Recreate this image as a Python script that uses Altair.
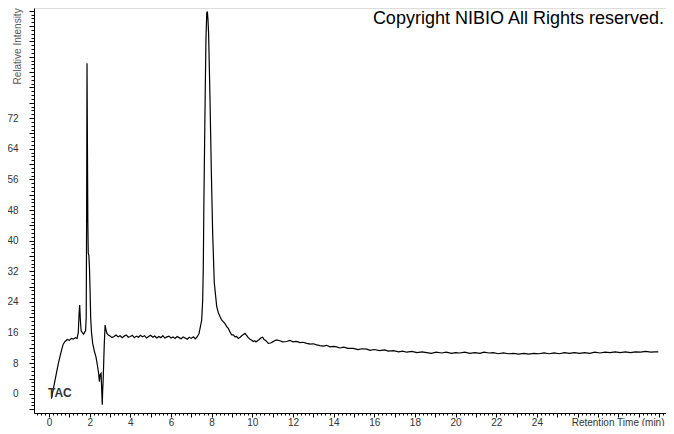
import altair as alt
import pandas as pd

# Retention time (min) and relative intensity
time_min = [
    0.12, 0.30, 0.46, 0.62, 0.70, 0.79, 0.90, 1.00, 1.10, 1.20, 1.30, 1.38,
    1.44, 1.48, 1.51, 1.54, 1.58, 1.64, 1.70, 1.76, 1.80, 1.83, 1.85, 1.87,
    1.89, 1.91, 1.93, 1.96, 1.99, 2.02, 2.05, 2.09, 2.15, 2.23, 2.31, 2.38,
    2.43, 2.48, 2.51, 2.56, 2.59, 2.62, 2.64, 2.66, 2.69, 2.72, 2.76, 2.80,
    2.85, 2.92,
    3.0, 3.1, 3.2, 3.3, 3.4, 3.5, 3.6, 3.7, 3.8, 3.9, 4.0, 4.1, 4.2, 4.3,
    4.4, 4.5, 4.6, 4.7, 4.8, 4.9, 5.0, 5.1, 5.2, 5.3, 5.4, 5.5, 5.6, 5.7,
    5.8, 5.9, 6.0, 6.1, 6.2, 6.3, 6.4, 6.5, 6.6, 6.7, 6.8, 6.9, 7.0, 7.1,
    7.2,
    7.3, 7.38, 7.43, 7.51, 7.56, 7.59, 7.62, 7.66, 7.69, 7.72, 7.76, 7.79,
    7.82, 7.85, 7.92, 7.98, 8.05, 8.13, 8.25, 8.33, 8.41, 8.49, 8.57, 8.65,
    8.74, 8.82, 8.90, 8.99, 9.07, 9.15, 9.23, 9.31, 9.40, 9.48, 9.56, 9.64,
    9.72, 9.80, 9.89, 9.97, 10.05, 10.12, 10.18, 10.26, 10.34, 10.42, 10.51,
    10.58, 10.67, 10.79, 10.90, 11.0, 11.1, 11.2, 11.35, 11.5, 11.69, 11.85,
    12.0, 12.18, 12.35, 12.5, 12.68, 12.85, 13.0, 13.17, 13.33, 13.49, 13.65,
    13.82, 14.0, 14.15, 14.3, 14.5, 14.7, 14.97, 15.2, 15.4, 15.63, 15.8,
    16.0, 16.25, 16.5, 16.7, 16.94, 17.2, 17.4, 17.6, 17.85, 18.1, 18.35,
    18.58, 18.8, 19.05, 19.3, 19.55, 19.8, 20.0, 20.2, 20.45, 20.7, 20.95,
    21.2, 21.4, 21.65, 21.85, 22.1, 22.35, 22.6, 22.85, 23.1, 23.35, 23.6,
    23.85, 24.1, 24.35, 24.6, 24.85, 25.1, 25.35, 25.6, 25.85, 26.1, 26.35,
    26.6, 26.85, 27.1, 27.35, 27.6, 27.85, 28.1, 28.35, 28.6, 28.85, 29.1,
    29.35, 29.6, 29.8, 29.97,
]
intensity = [
    -1.2, 3.7, 8.0, 11.5, 13.0, 13.7, 14.2, 14.0, 14.5, 14.3, 14.7, 14.5,
    16.0, 21.0, 23.2, 19.5, 16.5, 16.0, 15.6, 16.2, 16.5, 20.0, 45.0, 86.3,
    65.0, 45.0, 36.8, 36.2, 33.0, 27.0, 20.0, 16.0, 13.2, 11.2, 9.7, 7.5,
    5.8, 3.2, 5.0, 5.4, 1.5, -2.8, 1.0, 3.0, 8.0, 13.2, 18.0, 16.8,
    15.8, 15.4,
    15.1, 14.7, 15.0, 15.4, 14.9, 15.2, 14.7, 15.1, 15.4, 14.8, 15.0, 15.3,
    14.7, 15.1, 14.8, 15.3, 14.9, 15.2, 14.6, 15.0, 15.3, 14.8, 15.1, 14.6,
    15.0, 14.7, 15.2, 14.6, 14.9, 15.1, 14.6, 14.9, 14.5, 15.0, 14.7, 14.4,
    14.9, 14.6, 14.3, 14.8, 14.5, 14.9, 14.4,
    15.0, 15.8, 17.1, 19.3, 24.5, 33.2, 50.6, 68.0, 81.0, 92.4, 99.4, 99.8,
    97.6, 94.2, 76.8, 59.3, 42.0, 29.0, 22.8, 21.2, 20.2, 19.3, 18.9, 18.4,
    17.6, 17.1, 16.2, 15.4, 15.4, 14.9, 15.0, 14.5, 14.8, 15.2, 15.5, 15.8,
    15.3, 14.7, 14.3, 14.0, 13.7, 13.9, 13.6, 13.9, 14.2, 14.6, 14.8,
    14.2, 13.9, 13.2, 13.3, 13.6, 13.9, 14.1, 13.9, 13.6, 13.7, 14.0,
    13.6, 13.7, 13.4, 13.5, 13.2, 13.0, 13.1, 12.8, 12.6, 12.5, 12.7,
    12.3, 12.4, 12.3, 12.0, 12.2, 11.9, 11.9, 11.6, 11.8, 11.7, 11.4,
    11.6, 11.3, 11.5, 11.2, 11.3, 11.0, 11.2, 10.9, 11.1, 10.8, 11.0,
    10.8, 10.6, 10.9, 10.7, 10.9, 10.6, 10.8, 10.7, 10.9, 10.6, 10.8,
    10.6, 10.9, 10.7, 10.8, 10.5, 10.7, 10.5, 10.6, 10.4, 10.6, 10.4,
    10.6, 10.5, 10.7, 10.5, 10.7, 10.5, 10.8, 10.6, 10.8, 10.6, 10.8,
    10.6, 10.9, 10.7, 10.9, 10.8, 11.0, 10.8, 11.0, 10.8, 11.0, 10.9,
    11.1, 10.9, 11.0, 11.0,
]

x_tick_values = [round(-0.6 + 0.2 * i, 1) for i in range(155)]
y_tick_values = list(range(-4, 101))

FONT = "Liberation Sans"

df = pd.DataFrame({"t": time_min, "v": intensity})

line = alt.Chart(df).mark_line(color="black", strokeWidth=1.2, clip=True).encode(
    x=alt.X(
        "t:Q",
        scale=alt.Scale(domain=[-0.738, 30.35], nice=False, zero=False),
        axis=alt.Axis(
            values=x_tick_values,
            grid=False,
            domainColor="black",
            tickColor="black",
            tickSize={"condition": {"test": "abs(datum.value - round(datum.value)) < 0.01", "value": 4}, "value": 2},
            labelExpr="(abs(datum.value - round(datum.value)) < 0.01 && round(datum.value) % 2 == 0 && datum.value > -0.1 && datum.value < 24.1) ? format(round(datum.value), 'd') : ''",
            labelOverlap=False,
            labelFlush=False,
            labelFont=FONT,
            labelFontSize=10,
            labelColor="#333333",
            labelBaseline="alphabetic",
            labelPadding=8,
            title="Retention Time (min)",
            titleFont=FONT,
            titleFontSize=10,
            titleFontWeight="normal",
            titleColor="#333333",
            titleAlign="right",
            titleBaseline="alphabetic",
            titleX=630,
            titleY=12,
        ),
    ),
    y=alt.Y(
        "v:Q",
        scale=alt.Scale(domain=[-4.96, 100.7], nice=False, zero=False),
        axis=alt.Axis(
            values=y_tick_values,
            grid=False,
            domainColor="black",
            tickColor="black",
            tickSize={"condition": {"test": "datum.value % 4 == 0", "value": 5}, "value": 3},
            labelExpr="(datum.value % 8 == 0 && datum.value >= 0 && datum.value <= 72) ? format(datum.value, 'd') : ''",
            labelOverlap=False,
            labelFlush=False,
            labelFont=FONT,
            labelFontSize=10,
            labelColor="#333333",
            labelPadding=11,
            title="Relative Intensity",
            titleFont=FONT,
            titleFontSize=10,
            titleFontWeight="normal",
            titleColor="#555555",
            titleAngle=270,
            titleAlign="left",
            titleBaseline="middle",
            titleX=-17,
            titleY=76,
        ),
    ),
)

tac = alt.Chart(pd.DataFrame({"label": ["TAC"]})).mark_text(
    align="left", baseline="middle", font=FONT, fontSize=12, fontWeight="bold", color="#333333"
).encode(text="label:N", x=alt.value(14), y=alt.value(385))

copyright_txt = alt.Chart(pd.DataFrame({"label": ["Copyright NIBIO All Rights reserved."]})).mark_text(
    align="right", baseline="top", font=FONT, fontSize=18, color="black"
).encode(text="label:N", x=alt.value(630), y=alt.value(2))

chart = alt.layer(line, tac, copyright_txt).properties(
    width=632,
    height=405,
    autosize=alt.AutoSizeParams(type="none"),
    padding={"left": 26, "top": 0, "right": 0, "bottom": 13},
    background="white",
).configure_view(stroke=None).configure(font=FONT)

chart.save("out.html", embed_options={"renderer": "svg", "actions": False})
